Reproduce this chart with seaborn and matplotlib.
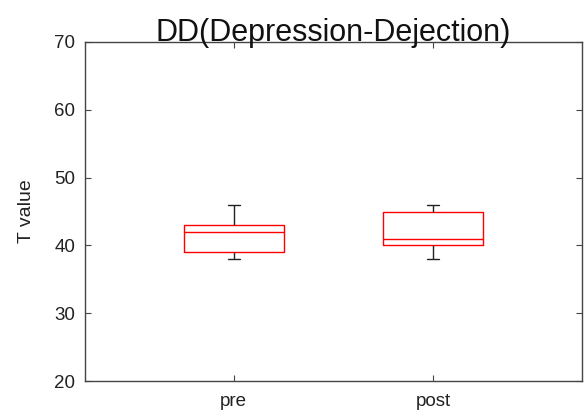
import numpy as np
import pandas as pd
import matplotlib
matplotlib.use("Agg")
import matplotlib.pyplot as plt
import seaborn as sns

# ---- data ----
groups = ["pre", "post"]
pre_values = [38, 39, 42, 43, 46]
post_values = [38, 40, 41, 45, 46]
y_ticks = [20, 30, 40, 50, 60, 70]
title_text = "DD(Depression-Dejection)"
y_label = "T value"

df = pd.DataFrame({
    "phase": [groups[0]] * len(pre_values) + [groups[1]] * len(post_values),
    "T": pre_values + post_values,
})

sns.set_style("white")
plt.rcParams["font.family"] = ["Liberation Sans", "DejaVu Sans"]

fig = plt.figure(figsize=(5.87, 4.16), dpi=100)
ax = fig.add_axes([85 / 587, 35 / 416, 497 / 587, 339 / 416])

sns.boxplot(
    data=df, x="phase", y="T", order=groups, ax=ax,
    fill=False, color="red", width=0.5, linewidth=1.0,
    whiskerprops=dict(color="#222222", linewidth=1.0),
    capprops=dict(color="#222222", linewidth=1.0),
    medianprops=dict(color="red", linewidth=1.0),
    capwidths=0.06,
)

ax.set_xlim(-0.745, 1.745)
ax.set_ylim(20, 70)
ax.set_yticks(y_ticks)
ax.set_xlabel("")
ax.set_ylabel(y_label, fontsize=14, color="#222222", labelpad=14)
ax.set_title(title_text, fontsize=22, color="#111111", pad=1)

for s in ax.spines.values():
    s.set_color("#444444")
    s.set_linewidth(1.0)
ax.tick_params(axis="both", direction="in", length=4, width=0.8,
               color="#444444", labelsize=13.5, labelcolor="#222222",
               top=True, right=True, left=True, bottom=True)
ax.tick_params(axis="x", pad=9)
ax.tick_params(axis="y", pad=7)

fig.savefig("out.png", dpi=100)
